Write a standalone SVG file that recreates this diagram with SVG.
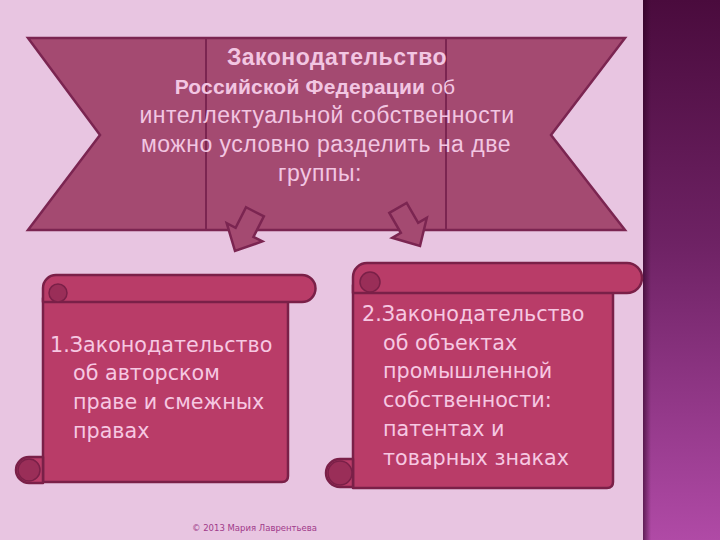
<svg xmlns="http://www.w3.org/2000/svg" width="720" height="540" viewBox="0 0 720 540">
<defs>
<linearGradient id="strip" x1="0" y1="0" x2="0" y2="1">
<stop offset="0" stop-color="#4a0b3d"/>
<stop offset="0.45" stop-color="#6e2264"/>
<stop offset="1" stop-color="#b04aa6"/>
</linearGradient>
<linearGradient id="shadow" x1="0" y1="0" x2="1" y2="0">
<stop offset="0" stop-color="#2a0020" stop-opacity="0.6"/>
<stop offset="1" stop-color="#2a0020" stop-opacity="0"/>
</linearGradient>
<path id="arrow" d="M-10,-44 L10,-44 L10,-21 L20,-21 L0,0 L-20,-21 L-10,-21 Z"/>
</defs>
<style>
.banner{fill:#a44a71;stroke:#7b2551;stroke-width:2.5}
.bline{stroke:#7b2551;stroke-width:2;fill:none}
.arr{fill:#a44a71;stroke:#7b2551;stroke-width:2.5;stroke-linejoin:miter}
.scroll{fill:#b93c68;stroke:#7a2048;stroke-width:2.5;stroke-linejoin:round}
.curl{fill:#9a2e58;stroke:#7a2048;stroke-width:1.5}
.btxt{font-family:"Liberation Sans",Arial,sans-serif;font-size:23px;letter-spacing:0.5px;fill:#f2c6e2;text-anchor:middle}
.stxt{font-family:"DejaVu Sans",Verdana,sans-serif;font-size:20.7px;fill:#f6c8e2}
.copy{font-family:"DejaVu Sans",sans-serif;font-size:8.5px;fill:#a03a8a}
</style>
<rect x="0" y="0" width="720" height="540" fill="#e8c5e1"/>
<rect x="643" y="0" width="77" height="540" fill="url(#strip)"/>
<rect x="643" y="0" width="8" height="540" fill="url(#shadow)"/>

<g id="banner">
<path class="banner" d="M28,38 L625,38 L551,135 L625,230 L28,230 L100,135 Z"/>
<line class="bline" x1="206" y1="38" x2="206" y2="230"/>
<line class="bline" x1="446" y1="38" x2="446" y2="230"/>
<text class="btxt" x="337" y="65" font-weight="bold">Законодательство</text>
<text class="btxt" x="315" y="94" style="font-size:21px;letter-spacing:0.2px"><tspan font-weight="bold">Российской Федерации</tspan> об</text>
<text class="btxt" x="327" y="123">интеллектуальной собственности</text>
<text class="btxt" x="326" y="152">можно условно разделить на две</text>
<text class="btxt" x="320" y="181">группы:</text>
</g>

<g id="connectors">
<use href="#arrow" class="arr" transform="translate(235,251) rotate(27)"/>
<use href="#arrow" class="arr" transform="translate(420,246) rotate(-30)"/>
</g>

<g id="scroll1">
<path class="scroll" d="M43,298 L288,298 L288,476 Q288,482 282,482 L43,482 Z"/>
<path class="scroll" d="M56,275 L302,275 A13.5,13.5 0 0 1 302,302 L43,302 L43,288 A13,13 0 0 1 56,275 Z"/>
<circle class="curl" cx="58" cy="293" r="9"/>
<path class="scroll" d="M43,457 L29,457 A13,13 0 0 0 29,483 L43,483 Z"/>
<circle class="curl" cx="29" cy="470" r="11"/>
<text class="stxt" x="50" y="352">1.Законодательство</text>
<text class="stxt" x="73" y="380">об авторском</text>
<text class="stxt" x="73" y="409">праве и смежных</text>
<text class="stxt" x="73" y="438">правах</text>
</g>

<g id="scroll2">
<path class="scroll" d="M353,285 L613,285 L613,482 Q613,488 607,488 L353,488 Z"/>
<path class="scroll" d="M367,263 L627,263 A15,15 0 0 1 627,293 L353,293 L353,277 A14,14 0 0 1 367,263 Z"/>
<circle class="curl" cx="370" cy="282" r="10"/>
<path class="scroll" d="M353,459 L340,459 A14,14 0 0 0 340,487 L353,487 Z"/>
<circle class="curl" cx="340" cy="473" r="12"/>
<text class="stxt" x="362" y="321">2.Законодательство</text>
<text class="stxt" x="383" y="350">об объектах</text>
<text class="stxt" x="383" y="378">промышленной</text>
<text class="stxt" x="383" y="407">собственности:</text>
<text class="stxt" x="383" y="436">патентах и</text>
<text class="stxt" x="383" y="465">товарных знаках</text>
</g>

<text class="copy" x="192" y="531">© 2013 Мария Лаврентьева</text>
</svg>
